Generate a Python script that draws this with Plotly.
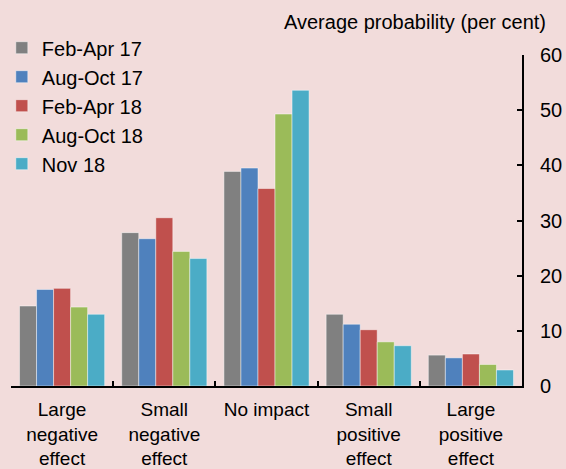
import plotly.graph_objects as go

categories = ["Large<br>negative<br>effect", "Small<br>negative<br>effect", "No impact",
              "Small<br>positive<br>effect", "Large<br>positive<br>effect"]
series_names = ["Feb-Apr 17", "Aug-Oct 17", "Feb-Apr 18", "Aug-Oct 18", "Nov 18"]
feb_apr_17 = [14.5, 27.8, 38.9, 13.0, 5.6]
aug_oct_17 = [17.5, 26.7, 39.5, 11.2, 5.1]
feb_apr_18 = [17.7, 30.5, 35.8, 10.2, 5.8]
aug_oct_18 = [14.3, 24.4, 49.3, 8.0, 3.9]
nov_18 = [13.0, 23.1, 53.6, 7.3, 2.9]
colors = ["#808080", "#4F81BD", "#C0504D", "#9BBB59", "#4BACC6"]
y_ticks = [0, 10, 20, 30, 40, 50, 60]

FONT = "Liberation Sans, Arial, sans-serif"
BG = "#F2DCDB"

fig = go.Figure()
for name, vals, col in zip(series_names, [feb_apr_17, aug_oct_17, feb_apr_18, aug_oct_18, nov_18], colors):
    fig.add_trace(go.Bar(x=categories, y=vals, name=name,
                         marker=dict(color=col, line=dict(color="rgba(255,255,255,0.45)", width=1))))

fig.update_layout(
    width=566, height=469,
    paper_bgcolor=BG, plot_bgcolor=BG,
    margin=dict(l=11, r=44, t=55, b=83, autoexpand=False),
    barmode="group", bargap=0.167, bargroupgap=0,
    font=dict(family=FONT, size=20, color="black"),
    showlegend=True,
    legend=dict(x=-0.018, xanchor="left", y=1.081, yanchor="top",
                bgcolor="rgba(0,0,0,0)", font=dict(size=20), tracegroupgap=0),
    xaxis=dict(type="category", showline=True, linecolor="black", linewidth=2,
               ticks="inside", ticklen=5, tickwidth=2, tickcolor="black", tickson="boundaries",
               tickfont=dict(size=19), tickangle=0, automargin=False, ticklabelstandoff=5,
               showgrid=False, zeroline=False),
    yaxis=dict(side="right", range=[0, 60], tickvals=y_ticks, showline=True, linecolor="black",
               linewidth=2, ticks="inside", ticklen=5, tickwidth=2, tickcolor="black",
               tickfont=dict(size=20), automargin=False,
               showgrid=False, zeroline=False, ticklabelstandoff=12),
    annotations=[dict(text="Average probability (per cent)", xref="paper", yref="paper",
                      x=1.051, y=1.0997, xanchor="right", yanchor="middle", showarrow=False,
                      font=dict(size=20))],
)

fig.write_html("out.html", config={"displayModeBar": False},
               post_script="document.body.style.margin='0';document.body.style.padding='0';"
                           "document.body.style.overflow='hidden';")
